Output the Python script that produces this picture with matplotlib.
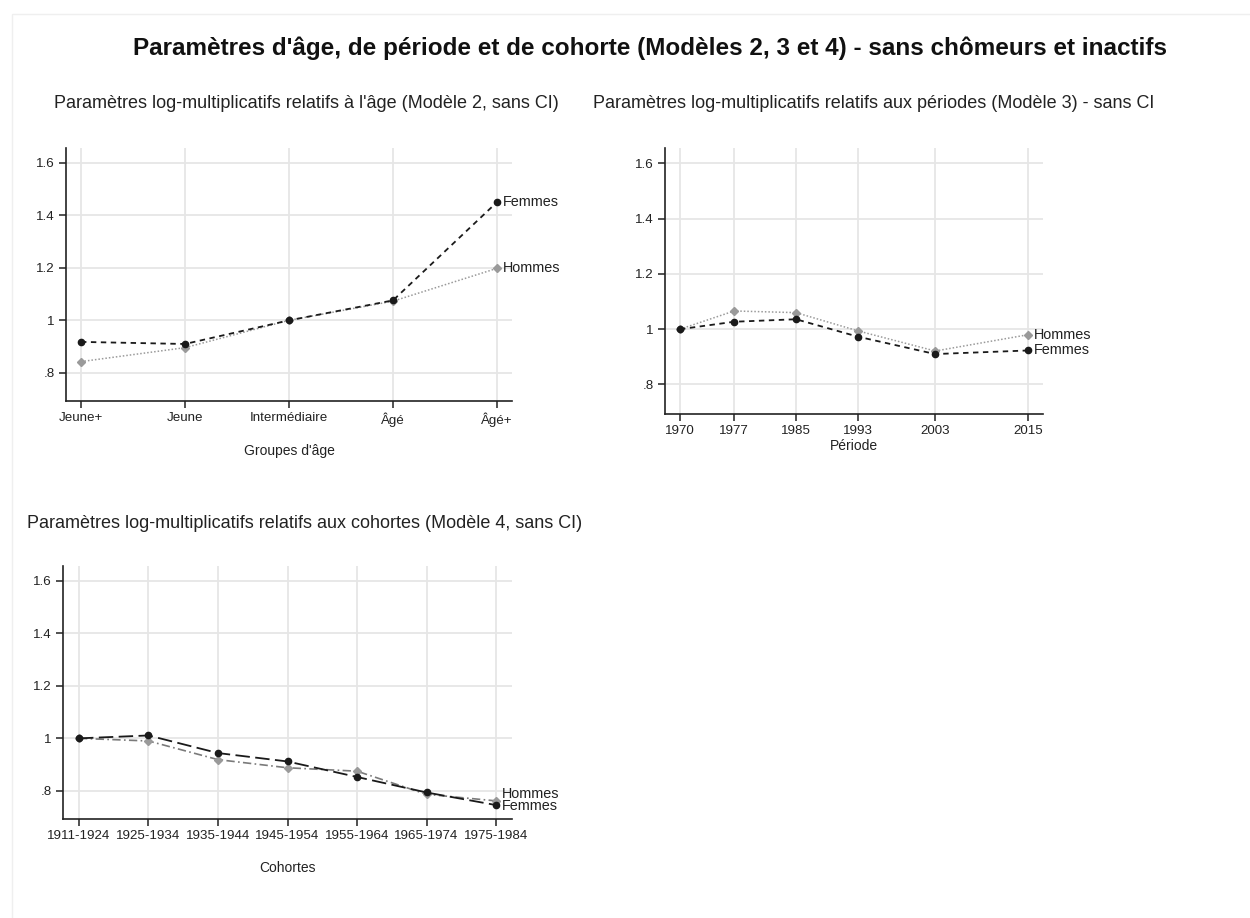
import matplotlib
matplotlib.use("Agg")
import matplotlib.pyplot as plt
from matplotlib.patches import Rectangle

plt.rcParams['font.family'] = ['Liberation Sans', 'DejaVu Sans']

# ---------------- data ----------------
age_groups = ["Jeune+", "Jeune", "Intermédiaire", "Âgé", "Âgé+"]
age_femmes = [0.918, 0.910, 1.0, 1.076, 1.450]
age_hommes = [0.843, 0.896, 1.0, 1.073, 1.198]

periods = [1970, 1977, 1985, 1993, 2003, 2015]
per_hommes = [1.0, 1.066, 1.060, 0.994, 0.921, 0.980]
per_femmes = [1.0, 1.027, 1.036, 0.973, 0.910, 0.923]

cohorts = ["1911-1924", "1925-1934", "1935-1944", "1945-1954",
           "1955-1964", "1965-1974", "1975-1984"]
coh_femmes = [1.0, 1.011, 0.944, 0.912, 0.853, 0.794, 0.746]
coh_hommes = [1.0, 0.990, 0.919, 0.888, 0.875, 0.787, 0.762]

yticks = [0.8, 1.0, 1.2, 1.4, 1.6]
ytick_labels = [".8", "1", "1.2", "1.4", "1.6"]

W, H = 1250, 918
fig = plt.figure(figsize=(W / 100, H / 100), dpi=100)
fig.patch.set_facecolor("white")

def rect(l, r, t, b):
    return [l / W, 1 - b / H, (r - l) / W, (b - t) / H]

def fx(x):
    return x / W

def fy(y):
    return 1 - y / H

# faint frame
fig.patches.append(Rectangle((12 / W, -0.05), 1.2, fy(14) + 0.05, transform=fig.transFigure,
                             fill=False, edgecolor="#efefef", lw=1.0))

BLACK = "#1a1a1a"
GREY = "#9a9a9a"
GRID = "#e6e6e6"
TICKFS = 9.6
LABFS = 10.4

def style_ax(ax, xt, xtl, xlim):
    ax.set_ylim(0.693, 1.656)
    ax.set_xlim(*xlim)
    ax.set_yticks(yticks)
    ax.set_yticklabels(ytick_labels, fontsize=TICKFS, color="#222222")
    ax.set_xticks(xt)
    ax.set_xticklabels(xtl, fontsize=TICKFS, color="#222222")
    for s in ["top", "right"]:
        ax.spines[s].set_visible(False)
    for s in ["left", "bottom"]:
        ax.spines[s].set_color("#222222")
        ax.spines[s].set_linewidth(1.2)
    ax.tick_params(axis="both", direction="out", length=5, width=1.1, color="#222222", pad=3)
    ax.grid(True, color=GRID, linewidth=1.3)
    ax.set_axisbelow(True)

def end_label(ax, text, x, y, dy=0):
    ax.annotate(text, (x, y), xytext=(4.5, dy), textcoords="offset points",
                va="center", ha="left", fontsize=LABFS, color="#222222", annotation_clip=False)

# ---------- Panel 1 ----------
ax1 = fig.add_axes(rect(66, 512, 148, 401))
x1 = list(range(len(age_groups)))
style_ax(ax1, x1, age_groups, (-0.144, 4.144))
ax1.plot(x1, age_hommes, color=GREY, lw=1.1, dashes=(1, 1.3), marker="D", ms=4.5,
         mfc=GREY, mec=GREY, zorder=3)
ax1.plot(x1, age_femmes, color=BLACK, lw=1.3, dashes=(3, 2.5), marker="o", ms=4.5,
         mfc=BLACK, mec=BLACK, zorder=4)
end_label(ax1, "Femmes", x1[-1], age_femmes[-1])
end_label(ax1, "Hommes", x1[-1], age_hommes[-1])

# ---------- Panel 2 ----------
ax2 = fig.add_axes(rect(665, 1043, 148, 414))
style_ax(ax2, periods, [str(p) for p in periods], (1968.06, 2016.94))
ax2.plot(periods, per_hommes, color=GREY, lw=1.1, dashes=(1, 1.3), marker="D", ms=4.5,
         mfc=GREY, mec=GREY, zorder=3)
ax2.plot(periods, per_femmes, color=BLACK, lw=1.3, dashes=(3, 2.5), marker="o", ms=4.5,
         mfc=BLACK, mec=BLACK, zorder=4)
end_label(ax2, "Hommes", periods[-1], per_hommes[-1])
end_label(ax2, "Femmes", periods[-1], per_femmes[-1])

# ---------- Panel 3 ----------
ax3 = fig.add_axes(rect(63, 512, 566, 819))
x3 = list(range(len(cohorts)))
style_ax(ax3, x3, cohorts, (-0.23, 6.23))
ax3.plot(x3, coh_hommes, color="#7a7a7a", lw=1.2, dashes=(5, 2, 1, 2), marker="D", ms=4.5,
         mfc=GREY, mec=GREY, zorder=3)
ax3.plot(x3, coh_femmes, color=BLACK, lw=1.3, dashes=(8, 3), marker="o", ms=4.5,
         mfc=BLACK, mec=BLACK, zorder=4)
end_label(ax3, "Hommes", x3[-1], coh_hommes[-1], dy=5)
end_label(ax3, "Femmes", x3[-1], coh_femmes[-1], dy=-1)

# ---------- Titles ----------
fig.text(fx(650), fy(48), "Paramètres d'âge, de période et de cohorte (Modèles 2, 3 et 4) - sans chômeurs et inactifs",
         ha="center", va="center", fontsize=17.5, fontweight="bold", color="#111111")
fig.text(fx(306), fy(103), "Paramètres log-multiplicatifs relatifs à l'âge (Modèle 2, sans CI)",
         ha="center", va="center", fontsize=13, color="#222222")
fig.text(fx(874), fy(103), "Paramètres log-multiplicatifs relatifs aux périodes (Modèle 3) - sans CI",
         ha="center", va="center", fontsize=13, color="#222222")
fig.text(fx(305), fy(524), "Paramètres log-multiplicatifs relatifs aux cohortes (Modèle 4, sans CI)",
         ha="center", va="center", fontsize=13, color="#222222")

fig.text(fx(289), fy(451), "Groupes d'âge", ha="center", va="center", fontsize=10, color="#222222")
fig.text(fx(854), fy(446), "Période", ha="center", va="center", fontsize=10, color="#222222")
fig.text(fx(288), fy(868), "Cohortes", ha="center", va="center", fontsize=10, color="#222222")

fig.savefig("out.png", dpi=100, facecolor="white")
